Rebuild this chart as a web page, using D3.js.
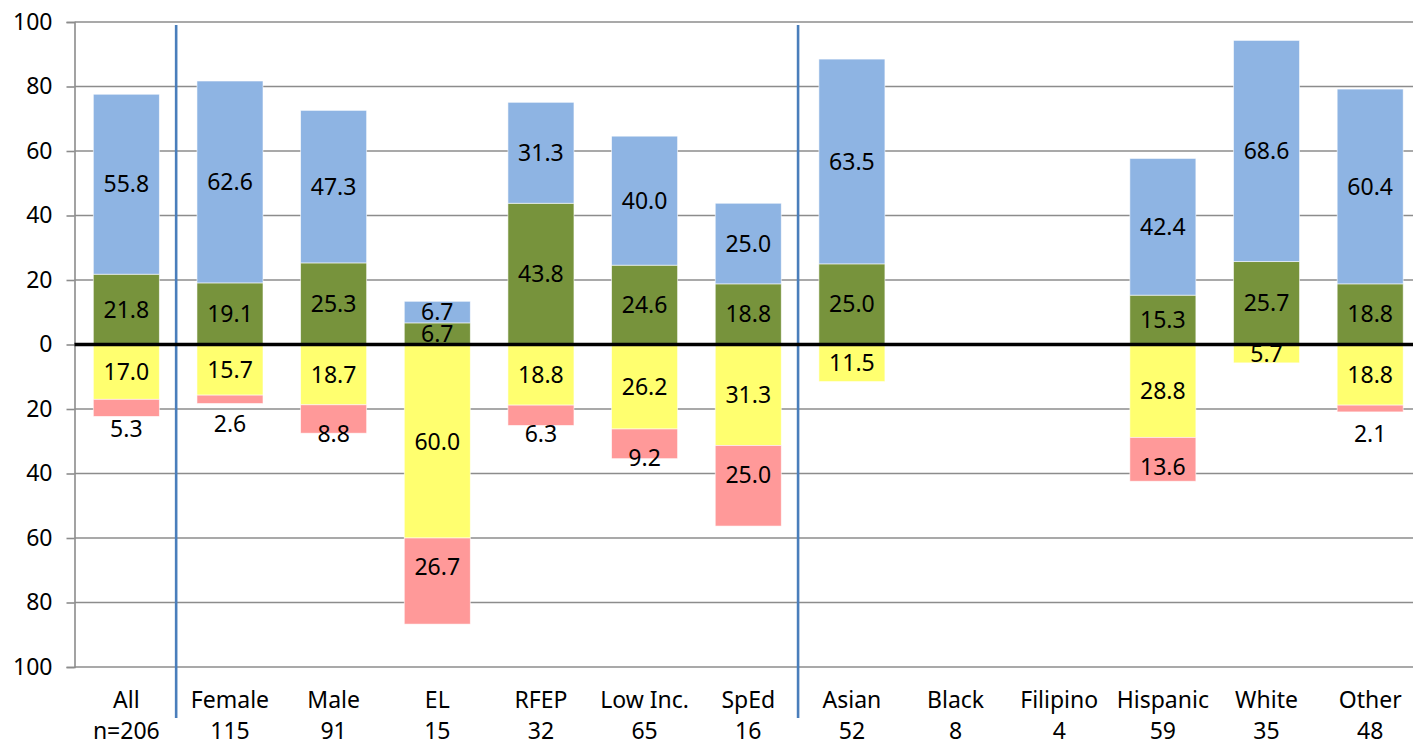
<!DOCTYPE html>
<html>
<head>
<meta charset="utf-8">
<script src="https://cdn.jsdelivr.net/npm/d3@7"></script>
<style>
  html, body { margin: 0; padding: 0; background: #ffffff; }
  svg { display: block; font-family: "Noto Sans", "Open Sans", sans-serif; }
</style>
</head>
<body>
<svg id="chart" width="1413" height="747"></svg>
<script>
const categories = ["All", "Female", "Male", "EL", "RFEP", "Low Inc.", "SpEd", "Asian", "Black", "Filipino", "Hispanic", "White", "Other"];
const counts = ["n=206", "115", "91", "15", "32", "65", "16", "52", "8", "4", "59", "35", "48"];
const greenVals  = [21.8, 19.1, 25.3, 6.7, 43.8, 24.6, 18.8, 25.0, null, null, 15.3, 25.7, 18.8];
const blueVals   = [55.8, 62.6, 47.3, 6.7, 31.3, 40.0, 25.0, 63.5, null, null, 42.4, 68.6, 60.4];
const yellowVals = [17.0, 15.7, 18.7, 60.0, 18.8, 26.2, 31.3, 11.5, null, null, 28.8, 5.7, 18.8];
const pinkVals   = [5.3, 2.6, 8.8, 26.7, 6.3, 9.2, 25.0, null, null, null, 13.6, null, 2.1];
const yTicks = [-100, -80, -60, -40, -20, 0, 20, 40, 60, 80, 100];
const separatorsAfter = ["All", "SpEd"];

const colors = { green: "#77933c", blue: "#8eb4e3", yellow: "#ffff6f", pink: "#ff9999" };
const FS = 23;

const svg = d3.select("#chart");
const margin = { left: 74.5, top: 22, bottom: 80 };
const plotRight = 1422;

const x = d3.scaleBand().domain(categories).range([margin.left, plotRight]).paddingInner(0.363).paddingOuter(0.1815);
const y = d3.scaleLinear().domain([-100, 100]).range([667, 22]);

const rows = categories.map((c, i) => ({
  cat: c,
  green: greenVals[i] || 0,
  blue: blueVals[i] || 0,
  yellow: -(yellowVals[i] || 0),
  pink: -(pinkVals[i] || 0),
  raw: { green: greenVals[i], blue: blueVals[i], yellow: yellowVals[i], pink: pinkVals[i] }
}));

const keys = ["green", "blue", "yellow", "pink"];
const stack = d3.stack().keys(keys).offset(d3.stackOffsetDiverging);
const series = stack(rows);

// gridlines
svg.append("g").selectAll("line").data(yTicks.filter(t => t !== 0)).join("line")
  .attr("x1", margin.left).attr("x2", plotRight)
  .attr("y1", d => y(d)).attr("y2", d => y(d))
  .attr("stroke", "#8c8c8c").attr("stroke-width", 1.6);

// y axis
const yAxis = d3.axisLeft(y).tickValues(yTicks).tickSize(8).tickPadding(14).tickFormat(d => Math.abs(d));
const yg = svg.append("g").attr("transform", `translate(${margin.left},0)`).call(yAxis);
yg.select(".domain").attr("stroke", "#8c8c8c").attr("stroke-width", 1.6);
yg.selectAll(".tick line").attr("stroke", "#8c8c8c").attr("stroke-width", 1.6);
yg.selectAll(".tick text").attr("font-size", FS).attr("fill", "#000").attr("font-family", "Noto Sans");

// bars
const barG = svg.append("g");
series.forEach(s => {
  barG.append("g").selectAll("rect").data(s.filter(d => d[1] !== d[0])).join("rect")
    .attr("x", d => x(d.data.cat))
    .attr("width", x.bandwidth())
    .attr("y", d => y(Math.max(d[0], d[1])))
    .attr("height", d => Math.abs(y(d[0]) - y(d[1])))
    .attr("fill", colors[s.key])
    .attr("stroke", "#ffffff").attr("stroke-width", 0.8).attr("stroke-opacity", 0.7);
});

// separators
const step = x.step();
svg.append("g").selectAll("line").data(separatorsAfter).join("line")
  .attr("x1", d => x(d) + x.bandwidth() + (step - x.bandwidth()) / 2 - 2)
  .attr("x2", d => x(d) + x.bandwidth() + (step - x.bandwidth()) / 2 - 2)
  .attr("y1", 25).attr("y2", 718)
  .attr("stroke", "#4a7ebb").attr("stroke-width", 2.6);

// zero line
svg.append("line").attr("x1", margin.left).attr("x2", plotRight)
  .attr("y1", y(0)).attr("y2", y(0)).attr("stroke", "#000").attr("stroke-width", 3.3);

// labels
const labelG = svg.append("g").attr("font-size", FS).attr("fill", "#000").attr("text-anchor", "middle");
series.forEach(s => {
  s.forEach(d => {
    const v = d.data.raw[s.key];
    if (v === null || v === undefined) return;
    let cy;
    if (s.key === "pink") {
      cy = y(Math.max(d[0], d[1])) + 29; // inside base
    } else {
      cy = (y(d[0]) + y(d[1])) / 2;
    }
    labelG.append("text")
      .attr("x", x(d.data.cat) + x.bandwidth() / 2)
      .attr("y", cy)
      .attr("dy", "0.36em")
      .text(d3.format(".1f")(v));
  });
});

// x labels
const xl = svg.append("g").attr("font-size", FS).attr("fill", "#000").attr("text-anchor", "middle");
categories.forEach((c, i) => {
  const cx = x(c) + x.bandwidth() / 2;
  xl.append("text").attr("x", cx).attr("y", 700).attr("dy", "0.36em").text(c);
  xl.append("text").attr("x", cx).attr("y", 731).attr("dy", "0.36em").text(counts[i]);
});
</script>
</body>
</html>
